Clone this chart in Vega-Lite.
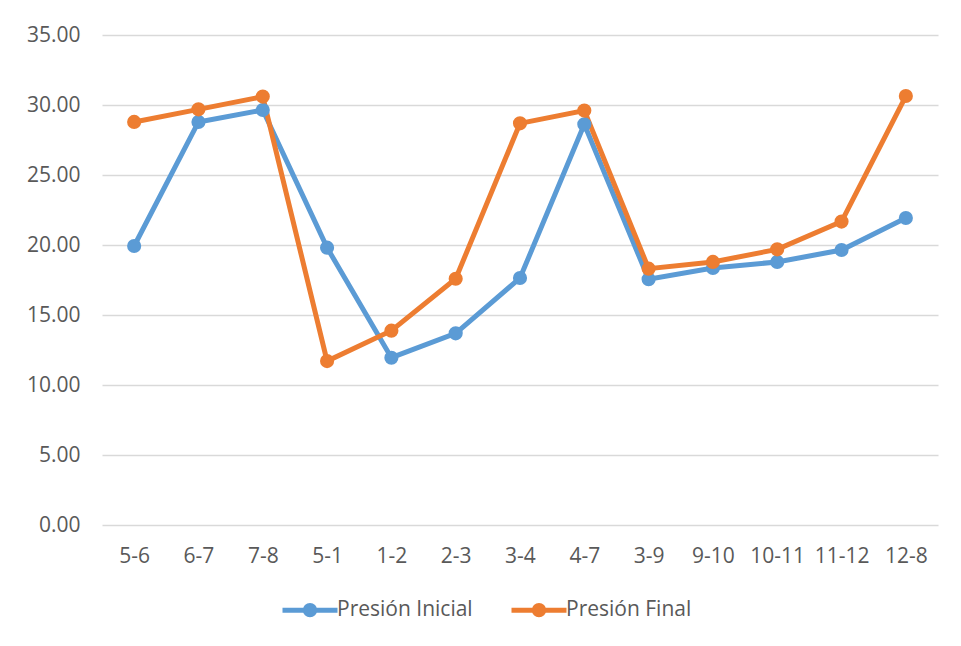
{
  "$schema": "https://vega.github.io/schema/vega-lite/v6.json",
  "width": 836,
  "height": 490,
  "autosize": {"type": "none"},
  "padding": {"left": 102, "top": 35, "right": 23, "bottom": 121},
  "background": "#ffffff",
  "config": {
    "view": {"stroke": null},
    "font": "Open Sans",
    "axis": {
      "labelFont": "Open Sans",
      "labelFontSize": 21,
      "labelColor": "#595959",
      "domain": false,
      "ticks": false,
      "title": null
    },
    "legend": {
      "labelFont": "Open Sans",
      "labelFontSize": 21,
      "labelColor": "#595959"
    }
  },
  "data": {
    "values": [
      {"tramo": "5-6", "serie": "Presión Inicial", "presion": 19.93},
      {"tramo": "6-7", "serie": "Presión Inicial", "presion": 28.79},
      {"tramo": "7-8", "serie": "Presión Inicial", "presion": 29.64},
      {"tramo": "5-1", "serie": "Presión Inicial", "presion": 19.81},
      {"tramo": "1-2", "serie": "Presión Inicial", "presion": 11.95},
      {"tramo": "2-3", "serie": "Presión Inicial", "presion": 13.69},
      {"tramo": "3-4", "serie": "Presión Inicial", "presion": 17.64},
      {"tramo": "4-7", "serie": "Presión Inicial", "presion": 28.62},
      {"tramo": "3-9", "serie": "Presión Inicial", "presion": 17.55},
      {"tramo": "9-10", "serie": "Presión Inicial", "presion": 18.36},
      {"tramo": "10-11", "serie": "Presión Inicial", "presion": 18.79},
      {"tramo": "11-12", "serie": "Presión Inicial", "presion": 19.64},
      {"tramo": "12-8", "serie": "Presión Inicial", "presion": 21.93},
      {"tramo": "5-6", "serie": "Presión Final", "presion": 28.79},
      {"tramo": "6-7", "serie": "Presión Final", "presion": 29.69},
      {"tramo": "7-8", "serie": "Presión Final", "presion": 30.6},
      {"tramo": "5-1", "serie": "Presión Final", "presion": 11.71},
      {"tramo": "1-2", "serie": "Presión Final", "presion": 13.88},
      {"tramo": "2-3", "serie": "Presión Final", "presion": 17.59},
      {"tramo": "3-4", "serie": "Presión Final", "presion": 28.69},
      {"tramo": "4-7", "serie": "Presión Final", "presion": 29.6},
      {"tramo": "3-9", "serie": "Presión Final", "presion": 18.31},
      {"tramo": "9-10", "serie": "Presión Final", "presion": 18.79},
      {"tramo": "10-11", "serie": "Presión Final", "presion": 19.69},
      {"tramo": "11-12", "serie": "Presión Final", "presion": 21.67},
      {"tramo": "12-8", "serie": "Presión Final", "presion": 30.64}
    ]
  },
  "mark": {
    "type": "line",
    "strokeWidth": 5,
    "point": {"filled": true, "size": 200, "opacity": 1}
  },
  "encoding": {
    "x": {
      "field": "tramo",
      "type": "ordinal",
      "sort": null,
      "scale": {"type": "point", "padding": 0.5},
      "axis": {"labelAngle": 0, "labelPadding": 20, "grid": false}
    },
    "y": {
      "field": "presion",
      "type": "quantitative",
      "scale": {"domain": [0, 35], "nice": false, "zero": true},
      "axis": {
        "values": [0, 5, 10, 15, 20, 25, 30, 35],
        "format": ".2f",
        "labelPadding": 22,
        "grid": true,
        "gridColor": "#d9d9d9",
        "gridWidth": 1.5
      }
    },
    "color": {
      "field": "serie",
      "type": "nominal",
      "scale": {
        "domain": ["Presión Inicial", "Presión Final"],
        "range": ["#5b9bd5", "#ed7d31"]
      },
      "legend": {
        "title": null,
        "orient": "none",
        "direction": "horizontal",
        "legendX": 178,
        "legendY": 545,
        "symbolType": "M-1,0L1,0M0.17,0A0.17,0.17,0,1,1,-0.17,0A0.17,0.17,0,1,1,0.17,0Z",
        "symbolSize": 3025,
        "symbolStrokeWidth": 5,
        "labelOffset": -3,
        "columnPadding": 28,
        "encode": {
          "symbols": {
            "update": {
              "fill": {"field": "value", "scale": "color"},
              "stroke": {"field": "value", "scale": "color"},
              "opacity": {"value": 1}
            }
          }
        }
      }
    }
  }
}
